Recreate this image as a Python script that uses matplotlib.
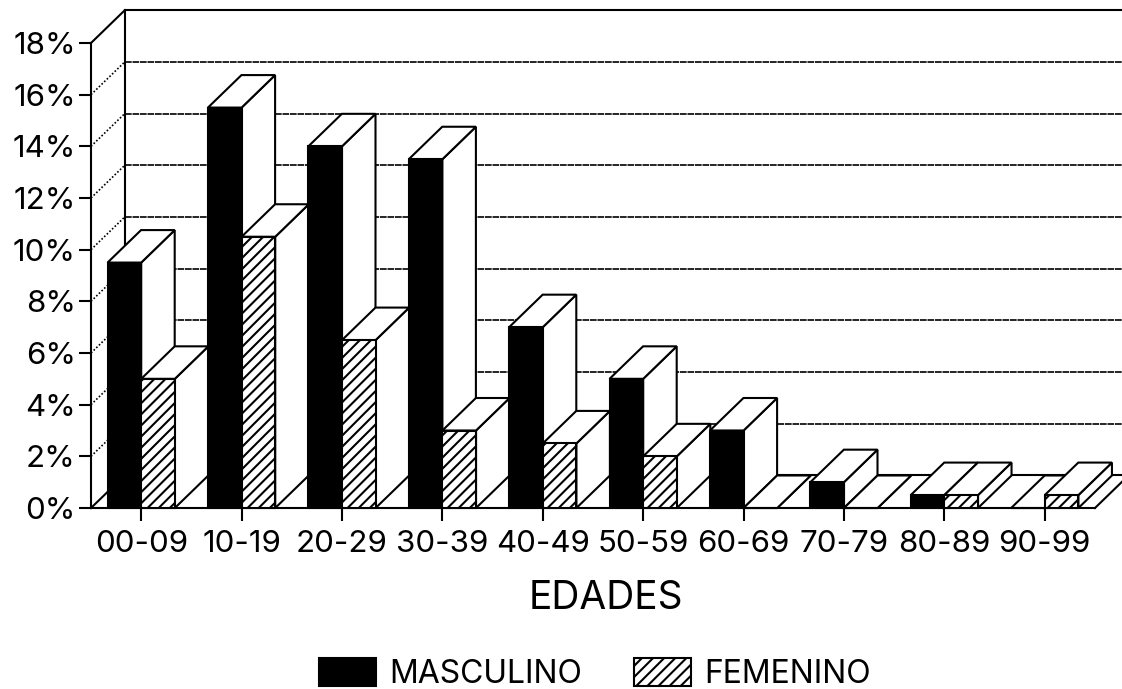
import matplotlib
matplotlib.use("Agg")
import matplotlib.pyplot as plt
from matplotlib.patches import Patch

plt.rcParams['font.family'] = ['Inter', 'DejaVu Sans']
plt.rcParams['font.weight'] = 'normal'
plt.rcParams['hatch.linewidth'] = 1.5

edades = ["00-09", "10-19", "20-29", "30-39", "40-49", "50-59", "60-69", "70-79", "80-89", "90-99"]
masculino = [9.5, 15.5, 14, 13.5, 7, 5, 3, 1, 0.5, 0]
femenino = [5, 10.5, 6.5, 3, 2.5, 2, 0, 0, 0.5, 0.5]
yticks = [0, 2, 4, 6, 8, 10, 12, 14, 16, 18]
xlabel = "EDADES"
legend_labels = ["MASCULINO", "FEMENINO"]

W, H = 1122, 689
fig = plt.figure(figsize=(W / 100, H / 100), dpi=100, facecolor="white")
left, right, bottom, top = 91, 1095, 508, 43
ax = fig.add_axes([left / W, (H - bottom) / H, (right - left) / W, (bottom - top) / H])
ax.set_xlim(0, 10)
ax.set_ylim(0, 18)
for s in ax.spines.values():
    s.set_visible(False)
ax.patch.set_visible(False)

dx = 33.5 / 100.4
dy = 32.5 / 25.83
bw = 0.335
LW = 1.5
ink = "#000000"

# walls and floor
for t in yticks[1:-1]:
    ax.plot([0, dx], [t, t + dy], color=ink, lw=1.2, ls=(0, (1, 1.2)), clip_on=False, zorder=1)
    ax.plot([dx, 11], [t + dy, t + dy], color=ink, lw=1.2, ls=(0, (4, 0.5)), clip_on=False, zorder=1)
ax.plot([0, dx], [18, 18 + dy], color=ink, lw=LW, clip_on=False, zorder=2)
ax.plot([dx, 11], [18 + dy, 18 + dy], color=ink, lw=LW, clip_on=False, zorder=2)
ax.plot([0, 0], [0, 18], color=ink, lw=LW, clip_on=False, zorder=2)
ax.plot([dx, dx], [dy, 18 + dy], color=ink, lw=LW, clip_on=False, zorder=2)
ax.plot([0, dx], [0, dy], color=ink, lw=LW, clip_on=False, zorder=2)
ax.plot([dx, 11], [dy, dy], color=ink, lw=LW, clip_on=False, zorder=2)
ax.plot([0, 10], [0, 0], color=ink, lw=LW, clip_on=False, zorder=2)
ax.plot([10, 10 + dx], [0, dy], color=ink, lw=LW, clip_on=False, zorder=2)


def box(x0, h, z, **front):
    x1 = x0 + bw
    ax.fill([x1, x1 + dx, x1 + dx, x1], [0, dy, h + dy, h], facecolor="white",
            edgecolor=ink, lw=LW, clip_on=False, zorder=z, joinstyle="miter")
    ax.fill([x0, x0 + dx, x1 + dx, x1], [h, h + dy, h + dy, h], facecolor="white",
            edgecolor=ink, lw=LW, clip_on=False, zorder=z + 0.1, joinstyle="miter")
    ax.bar(x0, h, width=bw, align="edge", edgecolor=ink, lw=LW, clip_on=False, zorder=z + 0.2, **front)


z = 3
for i in range(len(edades)):
    c = i + 0.5
    box(c - bw, masculino[i], z, facecolor=ink)
    box(c, femenino[i], z + 1, facecolor="white", hatch="///")
    z += 2

ax.set_xticks([i + 0.5 for i in range(len(edades))], edades)
ax.set_yticks(yticks, [f"{t}%" for t in yticks])
ax.tick_params(axis="x", length=9, width=1.5, pad=7, labelsize=22.5)
ax.tick_params(axis="y", length=9, width=1.5, pad=2, labelsize=22.5)
ax.set_xlabel(xlabel, fontsize=28, fontweight="normal")
ax.xaxis.set_label_coords((606 - left) / (right - left), -0.155)

handles = [Patch(facecolor=ink, edgecolor=ink, lw=LW),
           Patch(facecolor="white", edgecolor=ink, lw=LW, hatch="///")]
fig.legend(handles, legend_labels, loc="center", bbox_to_anchor=(595 / W, (H - 674) / H),
           ncol=2, frameon=False, fontsize=23, handlelength=1.8, handleheight=1.0,
           handletextpad=0.42, columnspacing=1.6, borderpad=0, borderaxespad=0)

fig.savefig("out.png", dpi=100, facecolor="white")
